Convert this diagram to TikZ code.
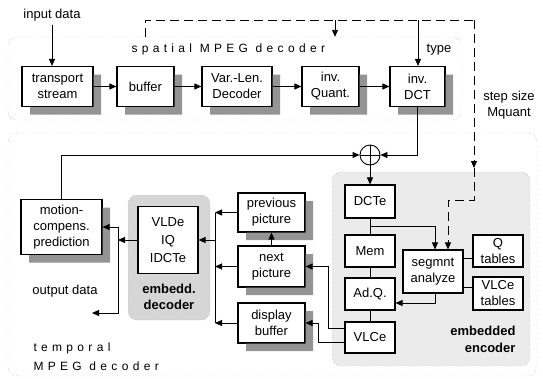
\documentclass[tikz,border=0pt]{standalone}
\usepackage{fontspec}
\setmainfont{Liberation Sans}
\newfontfamily\spacedfont[LetterSpace=36]{Liberation Sans}
\usetikzlibrary{arrows.meta,calc}

\begin{document}
\begin{tikzpicture}[x=1pt, y=-1pt,
  every node/.style={font=\fontsize{13}{16}\selectfont},
  blk/.style={draw, line width=1.1pt, fill=white, align=center, inner sep=1pt},
  shd/.style={fill=black!42},
  region/.style={draw=gray, dotted, rounded corners=9pt, inner sep=0pt},
  flow/.style={-{Triangle[length=7pt,width=6pt]}, line width=0.9pt},
  link/.style={line width=0.9pt},
  ctrl/.style={line width=0.9pt, dash pattern=on 9pt off 5pt},
  title/.style={font=\spacedfont\fontsize{12}{19}\selectfont, align=left},
]
\useasboundingbox (0,0) rectangle (543,378);

% Regions
\node[region, minimum width=453, minimum height=83] (spatial) at (234.5,78.5) {};
\node[region, minimum width=529, minimum height=243] (temporal) at (272.5,254.5) {};
\node[region, fill=gray!32, minimum width=82, minimum height=125] (decreg) at (169,257.5) {};
\node[region, fill=gray!16, minimum width=198, minimum height=194] (encreg) at (431,269) {};

\node[title, anchor=west] (sptitle) at (128,49) {spatial MPEG decoder};
\node[title, anchor=west] (tmptitle) at (30,357) {temporal\\MPEG decoder};

% Spatial decoder
\node (input) at (52,15) {input data};
\node[blk, minimum width=71, minimum height=40] (ts) at (57.5,86.5) {transport\\stream};
\node[blk, minimum width=57, minimum height=40] (buf) at (145.5,86.5) {buffer};
\node[blk, minimum width=70, minimum height=40] (vld) at (237,86.5) {Var.-Len.\\Decoder};
\node[blk, minimum width=57, minimum height=40] (invq) at (330.5,86.5) {inv.\\Quant.};
\node[blk, minimum width=55, minimum height=40] (idct) at (417.5,86.5) {inv.\\DCT};
\node (type) at (439,50) {type};
\node[align=center] (mquant) at (509,105) {step size\\Mquant};

% Temporal decoder
\node[blk, minimum width=81, minimum height=55] (motion) at (61.5,227) {motion-\\compens.\\prediction};
\node[blk, minimum width=60, minimum height=67] (vlde) at (168,240) {VLDe\\[2pt]IQ\\[2pt]IDCTe};
\node[font=\bfseries\fontsize{13}{16}\selectfont, align=center] (declbl) at (169,297) {embedd.\\decoder};
\node (output) at (65,291) {output data};
\node[blk, minimum width=67, minimum height=39] (prev) at (271.5,212.5) {previous\\picture};
\node[blk, minimum width=67, minimum height=41] (next) at (271.5,266.5) {next\\picture};
\node[blk, minimum width=67, minimum height=40] (disp) at (271.5,323) {display\\buffer};

% Shadows (right and bottom strips)
\fill[shd] (93.5,74.5) rectangle (101,114.5) (30,107) rectangle (101,114.5);
\fill[shd] (174.5,74.5) rectangle (182,114.5) (125,107) rectangle (182,114.5);
\fill[shd] (272.5,74.5) rectangle (280,114.5) (210,107) rectangle (280,114.5);
\fill[shd] (359.5,74.5) rectangle (367,114.5) (310,107) rectangle (367,114.5);
\fill[shd] (445.5,74.5) rectangle (453,114.5) (398,107) rectangle (453,114.5);
\fill[shd] (102.5,207.5) rectangle (110,262.5) (29,255) rectangle (110,262.5);
\fill[shd] (305.5,201) rectangle (313,240) (246,232.5) rectangle (313,240);
\fill[shd] (305.5,254) rectangle (313,295) (246,287.5) rectangle (313,295);
\fill[shd] (305.5,311) rectangle (313,351) (246,343.5) rectangle (313,351);

% Embedded encoder
\node[draw, circle, line width=0.9pt, minimum size=20, inner sep=0pt,
      path picture={\draw[line width=0.7pt] (path picture bounding box.north) -- (path picture bounding box.south)
                    (path picture bounding box.west) -- (path picture bounding box.east);}] (sum) at (370,155) {};
\node[blk, minimum width=50, minimum height=33] (dcte) at (370,201.5) {DCTe};
\node[blk, minimum width=50, minimum height=32] (mem) at (370,251) {Mem};
\node[blk, minimum width=50, minimum height=32] (adq) at (370,294) {Ad.Q.};
\node[blk, minimum width=50, minimum height=31] (vlce) at (370,337.5) {VLCe};
\node[blk, minimum width=60, minimum height=43] (seg) at (433,271.5) {segmnt\\analyze};
\node[blk, minimum width=50, minimum height=32] (qtab) at (498,251) {Q\\tables};
\node[blk, minimum width=50, minimum height=33] (vtab) at (498,293.5) {VLCe\\tables};
\node[font=\bfseries\fontsize{13}{17}\selectfont, align=right, anchor=east] (enclbl) at (519,339.5) {embedded\\encoder};

% Helper points
\coordinate (bits) at (145,37);
\coordinate (qctl) at (335,20);
\coordinate (tctl) at (418,20);
\coordinate (mq) at (474,20);
\coordinate (mqin) at (474,168);
\coordinate (mqturn) at (474,200);
\coordinate (split) at (118,240);
\coordinate (outd) at (92,313);
\coordinate (bus) at (215,240);

% Spatial flow
\draw[flow] (input) -- (input |- ts.north);
\draw[flow] (ts) -- (buf);
\draw[flow] (buf) -- (vld);
\draw[flow] (vld) -- (invq);
\draw[flow] (invq) -- (idct);

% Side information (dashed)
\draw[ctrl] (bits) |- (mq);
\draw[flow, ctrl] (mq) -- (mqin);
\draw[flow] (qctl) -- (qctl |- spatial.north);
\draw[flow] (tctl) -- (tctl |- idct.north);
\draw[flow, ctrl] (mqin) -- (mqturn) -| ([xshift=15pt]seg.north);

% Prediction loop
\draw[flow] (idct) |- (sum);
\draw[flow] (motion) |- (sum);
\draw[flow] (sum) -- (dcte);
\draw[link] (dcte) -- (mem);
\draw[link] (mem) -- (adq);
\draw[link] (adq) -- (vlce);
\draw[flow] ($(dcte.south)!0.5!(mem.north)$) -| ([xshift=2pt]seg.north);
\path ([yshift=13.5pt]seg.east) coordinate (sq) ([yshift=-15.5pt]seg.east) coordinate (sv);
\draw[link] (sq) -- (sq -| qtab.west);
\draw[link] (sv) -- (sv -| vtab.west);
\draw[flow] ([xshift=2pt]seg.south) |- ([yshift=-9pt]adq.east);
\draw[flow] ([yshift=9.5pt]vlce.west) -| ([xshift=23pt]next.east) -- (next.east);
\draw[flow] ([yshift=-5pt]vlce.west) -| ([xshift=13pt]disp.east) -- (disp.east);

% Picture memories
\draw[flow] (next) -- (prev);
\draw[flow] (prev.west) -- (prev.west -| bus);
\draw[flow] (next.west) -- (next.west -| bus);
\draw[flow] (disp.west) -- (disp.west -| bus);
\draw[link] (prev.west -| bus) -- (disp.west -| bus);
\draw[flow] (bus) -- (vlde.east);
\draw[flow] (vlde.west) -- (split);
\draw[flow] (split) |- (motion.east);
\draw[flow] (split) |- (outd);

\end{tikzpicture}
\end{document}
